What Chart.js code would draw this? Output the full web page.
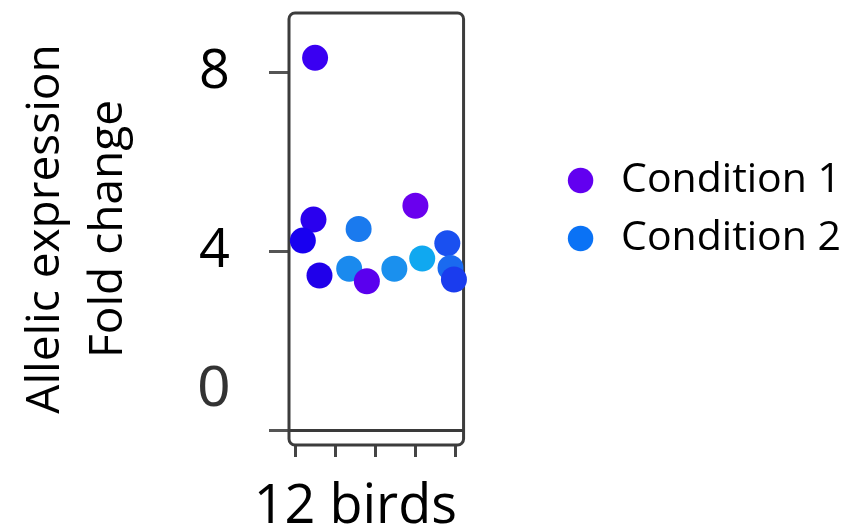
<!DOCTYPE html>
<html>
<head>
<meta charset="utf-8">
<script src="https://cdn.jsdelivr.net/npm/chart.js@4.4.1/dist/chart.umd.min.js"></script>
<style>
  html, body { margin: 0; padding: 0; background: #ffffff; }
</style>
</head>
<body>
<canvas id="birdChart" width="866" height="527"></canvas>
<script>
// ================================
// DATA
// ================================
const seriesNames = ["Condition 1", "Condition 2"];
const legendColors = ["#6200f0", "#0a72f5"];
const xTitle = "12 birds";
const yTitle = ["Allelic expression", "Fold change"];

// bird position along the x axis, fold change on y
const cond1X = [1.0, 0.92, 0.39, 1.22, 6.0, 3.58];
const cond1Y = [8.33, 4.71, 4.24, 3.46, 5.02, 3.33];
const cond1Colors = ["#3a00f2", "#2a00ee", "#1800f0", "#2000ea", "#6a00ee", "#5a00ee"];

const cond2X = [3.17, 2.7, 4.95, 6.34, 7.59, 7.75, 7.92];
const cond2Y = [4.50, 3.61, 3.61, 3.84, 4.18, 3.63, 3.37];
const cond2Colors = ["#1a7aee", "#1a8aee", "#1a90ee", "#10a8f0", "#1a50f0", "#1a6af0", "#1a3cee"];

const yTicks = [0, 2, 4, 6, 8];
const yTickLabels = ["0", "", "4", "", "8"];
const xTicks = [0, 2, 4, 6, 8];

// ================================
// GLOBAL SETTINGS
// ================================
const FONT = "'Open Sans', sans-serif";
Chart.defaults.font.family = FONT;
Chart.defaults.color = "#000";

// legend sits at a fixed left edge, so size the right padding from its text
const legendFontSize = 41;
const legendPad = 17;
const legendBox = 40;
const measureCtx = document.createElement("canvas").getContext("2d");
measureCtx.font = legendFontSize + "px " + FONT;
const legendTextWidth = Math.max(...seriesNames.map(n => measureCtx.measureText(n).width));
// chart.js adds 10px to a vertical legend's width
const legendWidth = Math.ceil(legendPad + legendBox + legendFontSize / 2 + legendTextWidth + 10);
const rightPad = Math.max(0, 866 - 543 - legendWidth);

// rounded frame around the plot area
const plotBox = {
  id: "plotBox",
  beforeDatasetsDraw(chart) {
    const { ctx, chartArea: a } = chart;
    ctx.save();
    ctx.strokeStyle = "#3c3c3c";
    ctx.lineWidth = 3;
    ctx.beginPath();
    ctx.roundRect(a.left, a.top, a.right - a.left, a.bottom - a.top, 6);
    ctx.stroke();
    ctx.restore();
  }
};

// x caption is wider than the narrow axis, so draw it here instead of the scale title
const xCaption = {
  id: "xCaption",
  afterDraw(chart) {
    const { ctx, chartArea: a } = chart;
    ctx.save();
    ctx.font = "54px " + FONT;
    ctx.fillStyle = "#000";
    ctx.textAlign = "center";
    ctx.textBaseline = "alphabetic";
    ctx.fillText(xTitle, (a.left + a.right) / 2 - 21, a.bottom + 78);
    ctx.restore();
  }
};

const toPoints = (xs, ys) => xs.map((x, i) => ({ x: x, y: ys[i] }));

new Chart(document.getElementById("birdChart"), {
  type: "scatter",
  data: {
    datasets: [
      {
        label: seriesNames[0],
        data: toPoints(cond1X, cond1Y),
        backgroundColor: cond1Colors,
        borderWidth: 0,
        pointRadius: 13,
        pointHoverRadius: 13,
        clip: false
      },
      {
        label: seriesNames[1],
        data: toPoints(cond2X, cond2Y),
        backgroundColor: cond2Colors,
        borderWidth: 0,
        pointRadius: 13,
        pointHoverRadius: 13,
        clip: false
      }
    ]
  },
  options: {
    responsive: false,
    animation: false,
    layout: { padding: { left: 0, top: 10, right: rightPad, bottom: 70 } },
    plugins: {
      tooltip: { enabled: false },
      legend: {
        position: "right",
        align: "start",
        maxWidth: legendWidth + 40,
        // empty title only pushes the items down
        title: { display: true, text: "", font: { size: 10, lineHeight: 1 }, padding: { top: 123, bottom: 0 } },
        labels: {
          usePointStyle: true,
          pointStyle: "circle",
          boxWidth: legendBox,
          boxHeight: 18,
          padding: legendPad,
          color: "#000",
          font: { size: legendFontSize },
          generateLabels: chart =>
            Chart.defaults.plugins.legend.labels.generateLabels(chart).map((item, i) =>
              Object.assign(item, { fillStyle: legendColors[i], strokeStyle: legendColors[i], lineWidth: 0 }))
        }
      }
    },
    scales: {
      x: {
        type: "linear",
        min: -0.3,
        max: 8.4,
        afterBuildTicks: s => { s.ticks = xTicks.map(v => ({ value: v })); },
        grid: { drawOnChartArea: false, tickLength: 12, tickWidth: 3, tickColor: "#444" },
        border: { display: false },
        ticks: { display: false }
      },
      y: {
        type: "linear",
        min: -0.333,
        max: 9.333,
        afterBuildTicks: s => { s.ticks = yTicks.map(v => ({ value: v })); },
        afterFit: s => {
          s.width = 289;
          s.paddingTop = 0;
          s.paddingBottom = 0;
        },
        grid: {
          color: c => (c.tick && c.tick.value === 0 ? "#3a3a3a" : "rgba(0,0,0,0)"),
          lineWidth: 3,
          tickLength: 20,
          tickWidth: 3,
          tickColor: "#555"
        },
        border: { display: false },
        ticks: {
          padding: 39,
          color: c => (c.tick && c.tick.value === 0 ? "#333" : "#000"),
          font: c => (c.tick && c.tick.value === 0
            ? { family: "'Liberation Sans', sans-serif", size: 58, lineHeight: 1.4 }
            : { size: 54, lineHeight: 1.2 }),
          // zero sits a little above its tick in the original
          callback: v => {
            const label = yTickLabels[yTicks.indexOf(v)];
            return v === 0 ? [label, ""] : label;
          }
        },
        title: {
          display: true,
          text: yTitle,
          color: "#000",
          font: { size: 46, lineHeight: 1.38 },
          padding: { top: 14, bottom: 0 }
        }
      },
      gap: {
        type: "linear",
        axis: "y",
        position: "right",
        grid: { display: false },
        border: { display: false },
        ticks: { display: false },
        afterFit: s => { s.width = 80; }
      }
    }
  },
  plugins: [plotBox, xCaption]
});
</script>
</body>
</html>
